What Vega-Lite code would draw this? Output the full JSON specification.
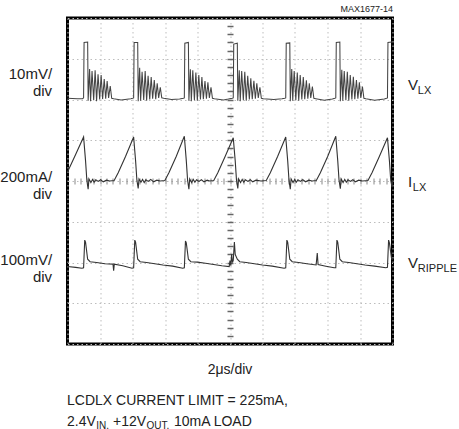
{
"$schema": "https://vega.github.io/schema/vega-lite/v6.json",
"width": 325, "height": 326,
"autosize": {"type": "none"},
"padding": {"left": 67.5, "top": 18, "right": 66.5, "bottom": 85},
"background": "white",
"config": {"font": "Liberation Sans", "view": {"stroke": "black", "strokeWidth": 3}},
"datasets": {
"vlx": [
{"t":0.00,"v":6.03},{"t":0.60,"v":6.02},{"t":0.93,"v":6.02},{"t":0.99,"v":6.04},{"t":1.02,"v":7.40},{"t":1.24,"v":7.41},{"t":1.27,"v":5.97},{"t":1.36,"v":6.75},{"t":1.42,"v":5.96},{"t":1.51,"v":6.70},{"t":1.61,"v":5.98},{"t":1.70,"v":6.72},{"t":1.79,"v":5.96},{"t":1.88,"v":6.62},{"t":1.98,"v":6.00},{"t":2.07,"v":6.60},{"t":2.16,"v":6.01},{"t":2.26,"v":6.50},{"t":2.35,"v":6.02},{"t":2.44,"v":6.45},{"t":2.53,"v":6.04},{"t":2.63,"v":6.33},{"t":2.72,"v":6.03},{"t":2.84,"v":6.02},{"t":3.3,"v":5.99},{"t":3.9,"v":6.02},{"t":4.01,"v":6.03},
{"t":4.07,"v":6.04},{"t":4.10,"v":7.40},{"t":4.32,"v":7.40},{"t":4.35,"v":5.96},{"t":4.44,"v":6.78},{"t":4.50,"v":5.97},{"t":4.59,"v":6.68},{"t":4.69,"v":5.99},{"t":4.78,"v":6.70},{"t":4.87,"v":5.97},{"t":4.96,"v":6.58},{"t":5.06,"v":6.00},{"t":5.15,"v":6.55},{"t":5.24,"v":6.02},{"t":5.34,"v":6.48},{"t":5.43,"v":6.01},{"t":5.52,"v":6.40},{"t":5.61,"v":6.04},{"t":5.71,"v":6.30},{"t":5.80,"v":6.04},{"t":5.92,"v":6.03},{"t":6.4,"v":6.00},{"t":6.9,"v":6.01},{"t":7.13,"v":6.03},
{"t":7.19,"v":6.04},{"t":7.22,"v":7.38},{"t":7.44,"v":7.40},{"t":7.47,"v":5.97},{"t":7.56,"v":6.74},{"t":7.62,"v":5.96},{"t":7.71,"v":6.72},{"t":7.81,"v":5.98},{"t":7.90,"v":6.66},{"t":7.99,"v":5.97},{"t":8.08,"v":6.60},{"t":8.18,"v":6.00},{"t":8.27,"v":6.55},{"t":8.36,"v":6.01},{"t":8.46,"v":6.45},{"t":8.55,"v":6.02},{"t":8.64,"v":6.42},{"t":8.73,"v":6.04},{"t":8.83,"v":6.30},{"t":8.92,"v":6.03},{"t":9.04,"v":6.02},{"t":9.6,"v":5.99},{"t":9.9,"v":6.01},{"t":10.14,"v":6.03},
{"t":10.20,"v":6.04},{"t":10.23,"v":7.36},{"t":10.45,"v":7.38},{"t":10.48,"v":5.97},{"t":10.57,"v":6.72},{"t":10.63,"v":5.96},{"t":10.72,"v":6.70},{"t":10.82,"v":5.98},{"t":10.91,"v":6.68},{"t":11.00,"v":5.97},{"t":11.09,"v":6.58},{"t":11.19,"v":6.00},{"t":11.28,"v":6.52},{"t":11.37,"v":6.01},{"t":11.47,"v":6.46},{"t":11.56,"v":6.02},{"t":11.65,"v":6.40},{"t":11.74,"v":6.04},{"t":11.84,"v":6.30},{"t":11.93,"v":6.03},{"t":12.05,"v":6.02},{"t":12.7,"v":6.00},{"t":13.2,"v":6.02},{"t":13.37,"v":6.03},
{"t":13.43,"v":6.04},{"t":13.46,"v":7.38},{"t":13.68,"v":7.39},{"t":13.71,"v":5.96},{"t":13.80,"v":6.75},{"t":13.86,"v":5.97},{"t":13.95,"v":6.70},{"t":14.05,"v":5.98},{"t":14.14,"v":6.66},{"t":14.23,"v":5.97},{"t":14.32,"v":6.60},{"t":14.42,"v":6.00},{"t":14.51,"v":6.55},{"t":14.60,"v":6.01},{"t":14.70,"v":6.47},{"t":14.79,"v":6.02},{"t":14.88,"v":6.40},{"t":14.97,"v":6.04},{"t":15.07,"v":6.32},{"t":15.16,"v":6.03},{"t":15.28,"v":6.02},{"t":15.8,"v":5.98},{"t":16.3,"v":6.01},{"t":16.45,"v":6.03},
{"t":16.51,"v":6.04},{"t":16.54,"v":7.40},{"t":16.76,"v":7.41},{"t":16.79,"v":5.96},{"t":16.88,"v":6.73},{"t":16.94,"v":5.97},{"t":17.03,"v":6.70},{"t":17.13,"v":5.98},{"t":17.22,"v":6.68},{"t":17.31,"v":5.97},{"t":17.40,"v":6.60},{"t":17.50,"v":6.00},{"t":17.59,"v":6.56},{"t":17.68,"v":6.01},{"t":17.78,"v":6.48},{"t":17.87,"v":6.02},{"t":17.96,"v":6.42},{"t":18.05,"v":6.04},{"t":18.15,"v":6.32},{"t":18.24,"v":6.03},{"t":18.36,"v":6.02},{"t":18.9,"v":5.98},{"t":19.5,"v":6.01},{"t":19.63,"v":6.03},
{"t":19.69,"v":6.04},{"t":19.72,"v":7.40},{"t":19.94,"v":7.41},{"t":20.0,"v":7.41}
],
"ilx": [
{"t":0.00,"v":4.22},{"t":0.5,"v":4.65},{"t":0.99,"v":5.08},
{"t":1.11,"v":4.5},{"t":1.19,"v":4.02},{"t":1.27,"v":3.80},{"t":1.32,"v":4.05},{"t":1.44,"v":3.96},{"t":1.54,"v":4.04},{"t":1.64,"v":3.97},{"t":1.74,"v":4.03},{"t":1.89,"v":3.99},{"t":2.04,"v":4.03},{"t":2.2,"v":3.98},{"t":2.4,"v":4.02},{"t":2.6,"v":4.0},{"t":2.87,"v":4.01},{"t":3.12,"v":4.2},{"t":3.57,"v":4.6},{"t":4.07,"v":5.08},
{"t":4.19,"v":4.5},{"t":4.27,"v":4.02},{"t":4.35,"v":3.82},{"t":4.40,"v":4.05},{"t":4.52,"v":3.97},{"t":4.62,"v":4.04},{"t":4.72,"v":3.96},{"t":4.82,"v":4.03},{"t":4.97,"v":3.99},{"t":5.12,"v":4.04},{"t":5.3,"v":3.98},{"t":5.5,"v":4.02},{"t":5.7,"v":4.0},{"t":5.99,"v":4.01},{"t":6.24,"v":4.2},{"t":6.69,"v":4.6},{"t":7.19,"v":5.10},
{"t":7.31,"v":4.5},{"t":7.39,"v":4.02},{"t":7.47,"v":3.80},{"t":7.52,"v":4.05},{"t":7.64,"v":3.96},{"t":7.74,"v":4.04},{"t":7.84,"v":3.97},{"t":7.94,"v":4.03},{"t":8.09,"v":3.99},{"t":8.24,"v":4.03},{"t":8.4,"v":3.98},{"t":8.6,"v":4.02},{"t":8.75,"v":4.0},{"t":9.0,"v":4.01},{"t":9.25,"v":4.2},{"t":9.7,"v":4.6},{"t":10.2,"v":5.06},
{"t":10.32,"v":4.5},{"t":10.40,"v":4.02},{"t":10.48,"v":3.82},{"t":10.53,"v":4.05},{"t":10.65,"v":3.96},{"t":10.75,"v":4.04},{"t":10.85,"v":3.97},{"t":10.95,"v":4.03},{"t":11.1,"v":3.99},{"t":11.25,"v":4.03},{"t":11.4,"v":3.98},{"t":11.6,"v":4.02},{"t":11.9,"v":4.0},{"t":12.23,"v":4.01},{"t":12.48,"v":4.2},{"t":12.93,"v":4.6},{"t":13.43,"v":5.08},
{"t":13.55,"v":4.5},{"t":13.63,"v":4.02},{"t":13.71,"v":3.80},{"t":13.76,"v":4.05},{"t":13.88,"v":3.96},{"t":13.98,"v":4.04},{"t":14.08,"v":3.97},{"t":14.18,"v":4.03},{"t":14.33,"v":3.99},{"t":14.48,"v":4.03},{"t":14.65,"v":3.98},{"t":14.85,"v":4.02},{"t":15.05,"v":4.0},{"t":15.31,"v":4.01},{"t":15.56,"v":4.2},{"t":16.01,"v":4.6},{"t":16.51,"v":5.10},
{"t":16.63,"v":4.5},{"t":16.71,"v":4.02},{"t":16.79,"v":3.81},{"t":16.84,"v":4.05},{"t":16.96,"v":3.96},{"t":17.06,"v":4.04},{"t":17.16,"v":3.97},{"t":17.26,"v":4.03},{"t":17.41,"v":3.99},{"t":17.56,"v":4.03},{"t":17.72,"v":3.98},{"t":17.92,"v":4.02},{"t":18.15,"v":4.0},{"t":18.49,"v":4.01},{"t":18.74,"v":4.2},{"t":19.19,"v":4.6},{"t":19.69,"v":5.06},
{"t":19.81,"v":4.5},{"t":19.89,"v":4.02},{"t":19.97,"v":3.85},{"t":20.0,"v":4.0}
],
"vr": [
{"t":0.0,"v":1.9},{"t":0.5,"v":1.88},{"t":0.89,"v":1.86},{"t":0.99,"v":1.87},{"t":1.06,"v":2.55},{"t":1.11,"v":2.50},{"t":1.24,"v":2.08},{"t":1.39,"v":2.02},{"t":1.79,"v":2.00},{"t":2.3,"v":1.97},{"t":2.80,"v":1.96},{"t":2.84,"v":1.80},{"t":2.88,"v":1.96},{"t":3.4,"v":1.92},{"t":3.97,"v":1.86},
{"t":4.07,"v":1.87},{"t":4.14,"v":2.55},{"t":4.19,"v":2.50},{"t":4.32,"v":2.08},{"t":4.47,"v":2.02},{"t":4.87,"v":2.00},{"t":5.37,"v":1.97},{"t":5.87,"v":1.94},{"t":6.47,"v":1.91},{"t":7.09,"v":1.86},
{"t":7.19,"v":1.87},{"t":7.26,"v":2.53},{"t":7.31,"v":2.48},{"t":7.44,"v":2.08},{"t":7.59,"v":2.02},{"t":7.99,"v":2.01},{"t":8.49,"v":1.98},{"t":8.99,"v":1.95},{"t":9.5,"v":1.92},{"t":9.95,"v":1.90},{"t":10.0,"v":2.05},{"t":10.05,"v":1.92},{"t":10.1,"v":2.2},{"t":10.15,"v":2.0},
{"t":10.2,"v":2.05},{"t":10.27,"v":2.5},{"t":10.32,"v":2.2},{"t":10.45,"v":2.08},{"t":10.6,"v":2.02},{"t":11.0,"v":2.0},{"t":11.5,"v":1.97},{"t":12.0,"v":1.94},{"t":12.6,"v":1.91},{"t":13.33,"v":1.86},
{"t":13.43,"v":1.87},{"t":13.50,"v":2.55},{"t":13.55,"v":2.50},{"t":13.68,"v":2.08},{"t":13.83,"v":2.02},{"t":14.23,"v":2.0},{"t":14.73,"v":1.97},{"t":15.3,"v":1.94},{"t":15.37,"v":2.23},{"t":15.42,"v":1.95},{"t":15.9,"v":1.91},{"t":16.41,"v":1.87},
{"t":16.51,"v":1.87},{"t":16.58,"v":2.55},{"t":16.63,"v":2.50},{"t":16.76,"v":2.08},{"t":16.91,"v":2.02},{"t":17.31,"v":2.0},{"t":17.81,"v":1.97},{"t":18.31,"v":1.94},{"t":18.9,"v":1.91},{"t":19.59,"v":1.87},
{"t":19.69,"v":1.88},{"t":19.76,"v":2.55},{"t":19.81,"v":2.48},{"t":19.94,"v":2.1},{"t":20.0,"v":2.06}
],
"leftLabels": [
{"t":-0.95,"v":6.51,"text":"10mV/"},{"t":-0.95,"v":6.08,"text":"div"},
{"t":-0.95,"v":3.98,"text":"200mA/"},{"t":-0.95,"v":3.55,"text":"div"},
{"t":-0.95,"v":1.95,"text":"100mV/"},{"t":-0.95,"v":1.52,"text":"div"}
],
"mainText": [
{"t":20.95,"v":6.24,"text":"V"},{"t":20.95,"v":3.86,"text":"I"},{"t":20.95,"v":1.86,"text":"V"}
],
"subText": [
{"t":21.56,"v":6.14,"text":"LX"},{"t":21.25,"v":3.76,"text":"LX"},{"t":21.56,"v":1.76,"text":"RIPPLE"}
],
"noteText": [
{"t":-0.03,"v":-1.50,"text":"LCDLX CURRENT LIMIT = 225mA,"},
{"t":-0.03,"v":-2.0,"text":"2.4V"},{"t":2.80,"v":-2.0,"text":"+12V"},{"t":6.55,"v":-2.0,"text":"10mA LOAD"}
],
"noteSub": [
{"t":1.77,"v":-2.09,"text":"IN,"},{"t":4.86,"v":-2.09,"text":"OUT,"}
],
"centerText": [{"t":10.0,"v":-0.74,"text":"2μs/div"}],
"smallText": [{"t":20.03,"v":8.15,"text":"MAX1677-14"}]
},
"resolve": {"axis": {"x": "independent", "y": "independent"}},
"layer": [
{"data": {"name": "vlx"}, "mark": {"type": "line", "color": "#444", "strokeWidth": 1.05},
 "encoding": {
  "x": {"field": "t", "type": "quantitative", "scale": {"domain": [0, 20], "nice": false, "zero": false},
        "axis": {"orient": "bottom", "values": [0,2,4,6,8,10,12,14,16,18,20], "grid": true, "gridColor": "#bdbdbd", "gridDash": [1.5, 3], "labels": false, "ticks": false, "domain": false, "title": null}},
  "y": {"field": "v", "type": "quantitative", "scale": {"domain": [0, 8], "nice": false, "zero": false},
        "axis": {"orient": "left", "values": [0,1,2,3,4,5,6,7,8], "grid": true, "gridColor": "#bdbdbd", "gridDash": [1.5, 3], "labels": false, "ticks": false, "domain": false, "title": null}}
 }},
{"data": {"name": "ilx"}, "mark": {"type": "line", "color": "#333", "strokeWidth": 1.1},
 "encoding": {
  "x": {"field": "t", "type": "quantitative", "scale": {"domain": [0, 20], "nice": false, "zero": false},
        "axis": {"orient": "top", "offset": -166, "values": [0.4,0.8,1.2,1.6,2,2.4,2.8,3.2,3.6,4,4.4,4.8,5.2,5.6,6,6.4,6.8,7.2,7.6,8,8.4,8.8,9.2,9.6,10,10.4,10.8,11.2,11.6,12,12.4,12.8,13.2,13.6,14,14.4,14.8,15.2,15.6,16,16.4,16.8,17.2,17.6,18,18.4,18.8,19.2,19.6], "ticks": true, "tickSize": 6, "tickColor": "#888", "tickWidth": 1, "labels": false, "domain": false, "grid": false, "title": null}},
  "y": {"field": "v", "type": "quantitative", "scale": {"domain": [0, 8], "nice": false, "zero": false},
        "axis": {"orient": "right", "offset": -165.5, "values": [0.2,0.4,0.6,0.8,1,1.2,1.4,1.6,1.8,2,2.2,2.4,2.6,2.8,3,3.2,3.4,3.6,3.8,4,4.2,4.4,4.6,4.8,5,5.2,5.4,5.6,5.8,6,6.2,6.4,6.6,6.8,7,7.2,7.4,7.6,7.8], "ticks": true, "tickSize": 6, "tickColor": "#666", "tickWidth": 1.5, "labels": false, "domain": false, "grid": false, "title": null}}
 }},
{"data": {"name": "vr"}, "mark": {"type": "line", "color": "#333", "strokeWidth": 1.1},
 "encoding": {
  "x": {"field": "t", "type": "quantitative", "scale": {"domain": [0, 20], "nice": false, "zero": false}, "axis": null},
  "y": {"field": "v", "type": "quantitative", "scale": {"domain": [0, 8], "nice": false, "zero": false}, "axis": null}
 }},
{"data": {"name": "leftLabels"}, "mark": {"type": "text", "align": "right", "baseline": "alphabetic", "fontSize": 15, "color": "#222"},
 "encoding": {
  "x": {"field": "t", "type": "quantitative", "scale": {"domain": [0, 20], "nice": false, "zero": false}, "axis": null},
  "y": {"field": "v", "type": "quantitative", "scale": {"domain": [0, 8], "nice": false, "zero": false}, "axis": null},
  "text": {"field": "text"}
 }},
{"data": {"name": "mainText"}, "mark": {"type": "text", "align": "left", "baseline": "alphabetic", "fontSize": 15, "color": "#222"},
 "encoding": {
  "x": {"field": "t", "type": "quantitative", "scale": {"domain": [0, 20], "nice": false, "zero": false}, "axis": null},
  "y": {"field": "v", "type": "quantitative", "scale": {"domain": [0, 8], "nice": false, "zero": false}, "axis": null},
  "text": {"field": "text"}
 }},
{"data": {"name": "subText"}, "mark": {"type": "text", "align": "left", "baseline": "alphabetic", "fontSize": 11, "color": "#222"},
 "encoding": {
  "x": {"field": "t", "type": "quantitative", "scale": {"domain": [0, 20], "nice": false, "zero": false}, "axis": null},
  "y": {"field": "v", "type": "quantitative", "scale": {"domain": [0, 8], "nice": false, "zero": false}, "axis": null},
  "text": {"field": "text"}
 }},
{"data": {"name": "noteText"}, "mark": {"type": "text", "align": "left", "baseline": "alphabetic", "fontSize": 14, "color": "#222"},
 "encoding": {
  "x": {"field": "t", "type": "quantitative", "scale": {"domain": [0, 20], "nice": false, "zero": false}, "axis": null},
  "y": {"field": "v", "type": "quantitative", "scale": {"domain": [0, 8], "nice": false, "zero": false}, "axis": null},
  "text": {"field": "text"}
 }},
{"data": {"name": "noteSub"}, "mark": {"type": "text", "align": "left", "baseline": "alphabetic", "fontSize": 10, "color": "#222"},
 "encoding": {
  "x": {"field": "t", "type": "quantitative", "scale": {"domain": [0, 20], "nice": false, "zero": false}, "axis": null},
  "y": {"field": "v", "type": "quantitative", "scale": {"domain": [0, 8], "nice": false, "zero": false}, "axis": null},
  "text": {"field": "text"}
 }},
{"data": {"name": "centerText"}, "mark": {"type": "text", "align": "center", "baseline": "alphabetic", "fontSize": 14, "color": "#222"},
 "encoding": {
  "x": {"field": "t", "type": "quantitative", "scale": {"domain": [0, 20], "nice": false, "zero": false}, "axis": null},
  "y": {"field": "v", "type": "quantitative", "scale": {"domain": [0, 8], "nice": false, "zero": false}, "axis": null},
  "text": {"field": "text"}
 }},
{"data": {"name": "smallText"}, "mark": {"type": "text", "align": "right", "baseline": "alphabetic", "fontSize": 9, "color": "#222"},
 "encoding": {
  "x": {"field": "t", "type": "quantitative", "scale": {"domain": [0, 20], "nice": false, "zero": false}, "axis": null},
  "y": {"field": "v", "type": "quantitative", "scale": {"domain": [0, 8], "nice": false, "zero": false}, "axis": null},
  "text": {"field": "text"}
 }}
]
}
